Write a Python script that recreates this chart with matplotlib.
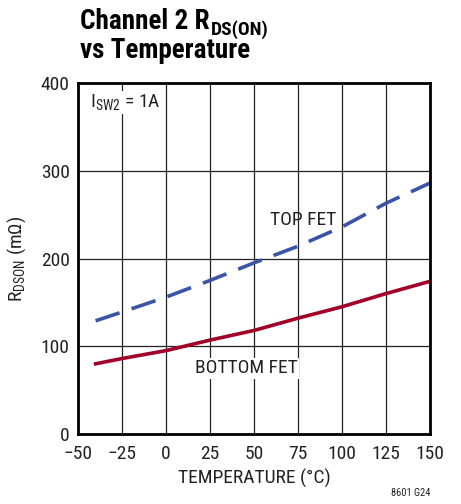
import matplotlib

matplotlib.use("Agg")
import matplotlib.pyplot as plt
from matplotlib.transforms import offset_copy

FONT = "Roboto Condensed"
plt.rcParams["font.family"] = [FONT, "DejaVu Sans"]
plt.rcParams["mathtext.fontset"] = "custom"
plt.rcParams["mathtext.rm"] = FONT
plt.rcParams["mathtext.it"] = FONT + ":italic"
plt.rcParams["mathtext.bf"] = FONT + ":bold"

# values
temp = [-40, -25, 0, 25, 50, 75, 100, 125, 150]
top_fet = [129, 139, 156, 175, 195, 214, 236, 263, 286]
bottom_fet = [80, 86, 95, 107, 118, 132, 145, 160, 174]

x_ticks = [-50, -25, 0, 25, 50, 75, 100, 125, 150]
x_labels = ["\u221250", "\u221225", "0", "25", "50", "75", "100", "125", "150"]
y_ticks = [0, 100, 200, 300, 400]

TXT = "#222222"


def main() -> None:
    fig = plt.figure(figsize=(4.61, 5.04), dpi=100)
    ax = fig.add_axes([78 / 461, 1 - 434 / 504, 352 / 461, 351 / 504])

    ax.plot(temp, top_fet, color="#3a55a8", lw=2.6, dashes=(7, 3.5))
    ax.plot(temp, bottom_fet, color="#a0002a", lw=2.6)

    ax.set_xlim(-50, 150)
    ax.set_ylim(0, 400)
    ax.set_xticks(x_ticks)
    ax.set_xticklabels(x_labels)
    ax.set_yticks(y_ticks)
    ax.tick_params(length=0, labelsize=14, colors=TXT)
    ax.tick_params(axis="x", pad=8)
    ax.tick_params(axis="y", pad=6)
    ax.grid(True, color=TXT, lw=0.9)
    for s in ax.spines.values():
        s.set_linewidth(2)
        s.set_color("black")

    ax.set_xlabel("TEMPERATURE (\u00b0C)", fontsize=14, color=TXT, labelpad=4)
    ax.set_ylabel("R$_{\\mathrm{DSON}}$ (m\u03a9)", fontsize=14, color=TXT, labelpad=9)

    ax.text(-43, 378, "I$_{\\mathrm{SW2}}$ = 1A", fontsize=14, va="center",
            color=TXT, bbox=dict(fc="white", ec="none", pad=1))
    ax.text(59, 244, "TOP FET", fontsize=14, va="center", color=TXT)
    ax.text(16.5, 75, "BOTTOM FET", fontsize=14, va="center", color=TXT,
            bbox=dict(fc="white", ec="none", pad=1))

    # title, with the subscript drawn as its own text so it can be larger
    t1 = fig.text(80 / 461, 1 - 29 / 504, "Channel 2 R", fontsize=19.5,
                  fontweight="bold", va="baseline")
    renderer = fig.canvas.get_renderer()
    w = t1.get_window_extent(renderer).width
    sub_tr = offset_copy(fig.transFigure, fig=fig, x=w * 72 / fig.dpi + 1,
                         y=-4, units="points")
    fig.text(80 / 461, 1 - 29 / 504, "DS(ON)", fontsize=14, fontweight="bold",
             va="baseline", transform=sub_tr)
    fig.text(80 / 461, 1 - 58 / 504, "vs Temperature",
             fontsize=19.5, fontweight="bold", va="baseline")
    fig.text(430 / 461, 1 - 493 / 504, "8601 G24", fontsize=7.5, ha="right",
             va="center", color=TXT)

    fig.savefig("out.png", dpi=100)
    plt.close(fig)


if __name__ == "__main__":
    main()
